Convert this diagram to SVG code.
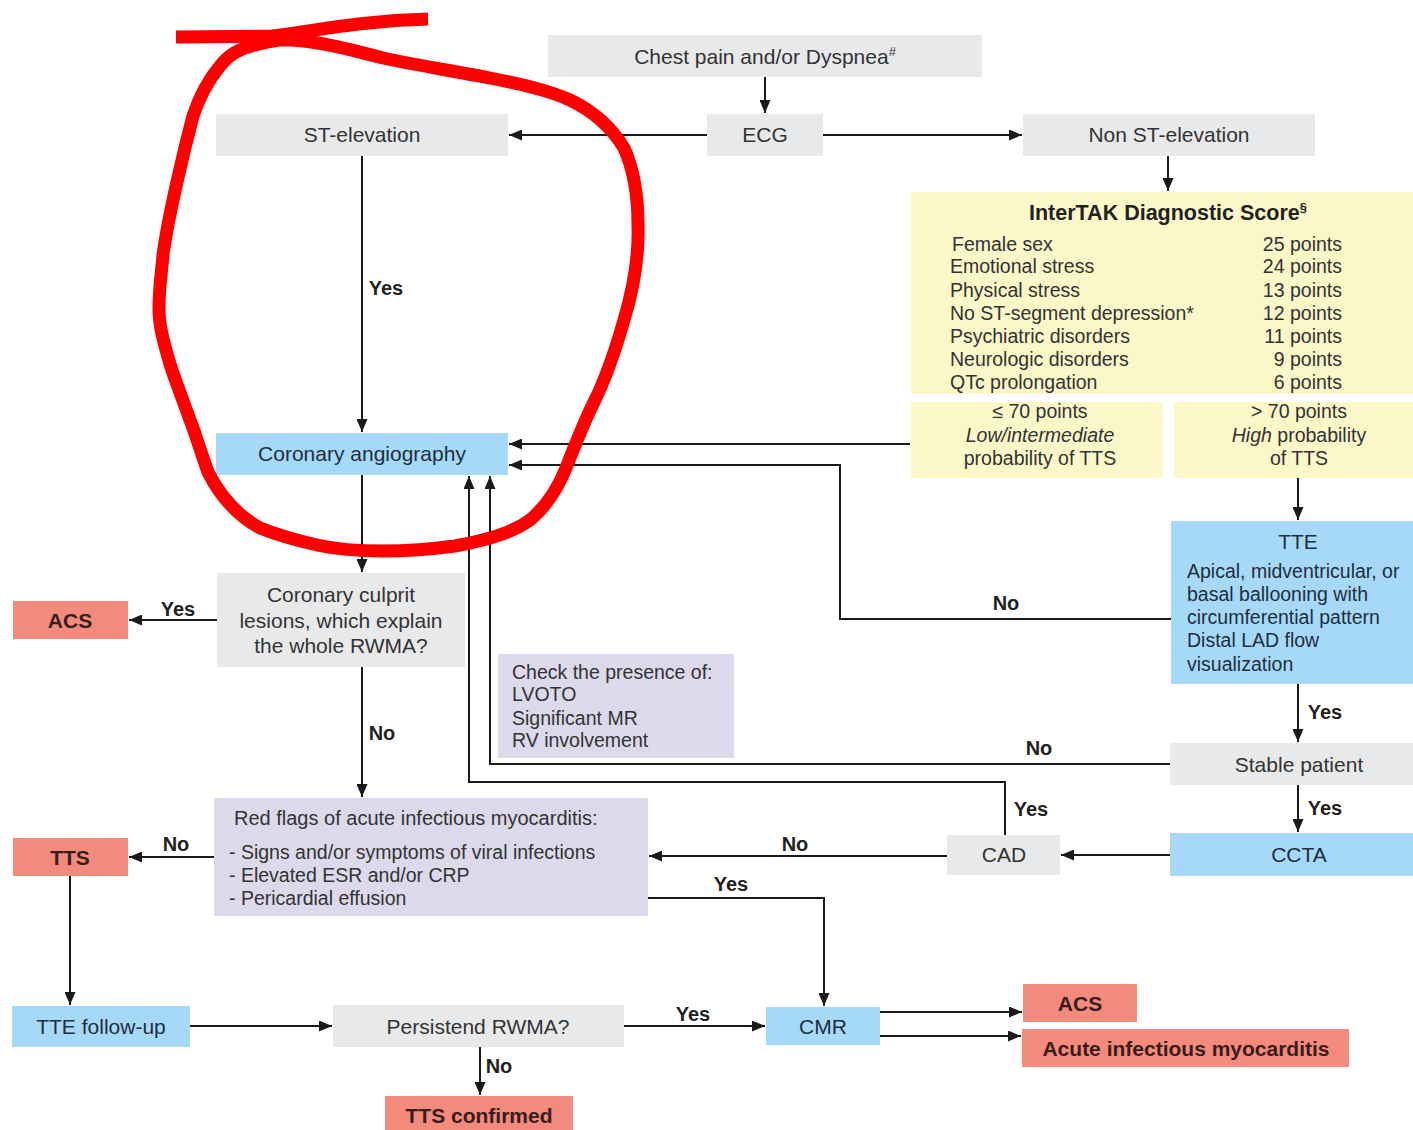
<svg xmlns="http://www.w3.org/2000/svg" width="1413" height="1130" viewBox="0 0 1413 1130">
<defs>
<marker id="ah" markerUnits="userSpaceOnUse" markerWidth="13" markerHeight="11" refX="13" refY="5.5" orient="auto">
<path d="M0,0 L13,5.5 L0,11 z" fill="#1a1a1a"/>
</marker>
</defs>
<style>
text{font-family:"Liberation Sans",Arial,sans-serif;font-size:19.5px;fill:#333;}
.c{text-anchor:middle;}
.big{font-size:21px;}
.gray{fill:#e8e9eb;}
.blue{fill:#a6d9f7;}
.yel{fill:#fbf7c9;}
.lav{fill:#dcd9eb;}
.sal{fill:#f28b7d;}
.bt{fill:#1f2e3e;}
.st{font-weight:bold;fill:#3a1c1a;font-size:21px;}
.lbl{font-weight:bold;font-size:20px;fill:#222;}
.ttl{font-weight:bold;font-size:21.5px;fill:#222;}
.sup{font-size:13px;}
.ln{fill:none;stroke:#1a1a1a;stroke-width:2;}
.ar{marker-end:url(#ah);}
.red{fill:none;stroke:#ff0000;stroke-width:13;stroke-linejoin:round;}
</style>
<rect width="1413" height="1130" fill="#ffffff"/>

<g id="connectors">
<path class="ln ar" d="M765,77 V113"/>
<path class="ln ar" d="M707,135 H509"/>
<path class="ln ar" d="M823,135 H1022"/>
<path class="ln ar" d="M1168,156 V191"/>
<path class="ln ar" d="M362,156 V432"/>
<path class="ln ar" d="M910,444 H509"/>
<path class="ln ar" d="M1171,619 H840 V465 H509"/>
<path class="ln ar" d="M1298,478 V520"/>
<path class="ln ar" d="M1298,684 V742"/>
<path class="ln ar" d="M1170,764 H490 V476"/>
<path class="ln ar" d="M1298,785 V832"/>
<path class="ln ar" d="M1170,855 H1061"/>
<path class="ln ar" d="M1005,835 V782 H469 V476"/>
<path class="ln ar" d="M947,856 H649"/>
<path class="ln ar" d="M648,898 H824 V1006"/>
<path class="ln ar" d="M362,475 V572"/>
<path class="ln ar" d="M217,620 H129"/>
<path class="ln ar" d="M362,667 V797"/>
<path class="ln ar" d="M214,857 H129"/>
<path class="ln ar" d="M70,876 V1005"/>
<path class="ln ar" d="M190,1026 H332"/>
<path class="ln ar" d="M624,1026 H765"/>
<path class="ln ar" d="M480,1047 V1095"/>
<path class="ln ar" d="M880,1012 H1022"/>
<path class="ln ar" d="M880,1036 H1021"/>
<text class="lbl c" x="386" y="295">Yes</text>
<text class="lbl c" x="1006" y="610">No</text>
<text class="lbl c" x="1325" y="719">Yes</text>
<text class="lbl c" x="1039" y="755">No</text>
<text class="lbl c" x="1325" y="815">Yes</text>
<text class="lbl c" x="1031" y="816">Yes</text>
<text class="lbl c" x="795" y="851">No</text>
<text class="lbl c" x="731" y="891">Yes</text>
<text class="lbl c" x="178" y="616">Yes</text>
<text class="lbl c" x="382" y="740">No</text>
<text class="lbl c" x="176" y="851">No</text>
<text class="lbl c" x="693" y="1021">Yes</text>
<text class="lbl c" x="499" y="1073">No</text>
</g>

<g id="chest"><rect class="gray" x="548" y="35" width="434" height="42"/><text class="c big" x="765" y="64">Chest pain and/or Dyspnea<tspan class="sup" dy="-8">#</tspan></text></g>
<g id="stelev"><rect class="gray" x="216" y="114" width="292" height="42"/><text class="c big" x="362" y="142">ST-elevation</text></g>
<g id="ecg"><rect class="gray" x="707" y="114" width="116" height="42"/><text class="c big" x="765" y="142">ECG</text></g>
<g id="nonst"><rect class="gray" x="1023" y="114" width="292" height="42"/><text class="c big" x="1169" y="142">Non ST-elevation</text></g>

<g id="intertak">
<rect class="yel" x="911" y="192" width="502" height="202"/>
<text class="c ttl" x="1168" y="220">InterTAK Diagnostic Score<tspan class="sup" dy="-8">§</tspan></text>
<text x="952" y="251">Female sex</text>
<text x="950" y="273">Emotional stress</text>
<text x="950" y="297">Physical stress</text>
<text x="950" y="320">No ST-segment depression*</text>
<text x="950" y="343">Psychiatric disorders</text>
<text x="950" y="366">Neurologic disorders</text>
<text x="950" y="389">QTc prolongation</text>
<g text-anchor="end">
<text x="1342" y="251">25 points</text>
<text x="1342" y="273">24 points</text>
<text x="1342" y="297">13 points</text>
<text x="1342" y="320">12 points</text>
<text x="1342" y="343">11 points</text>
<text x="1342" y="366">9 points</text>
<text x="1342" y="389">6 points</text>
</g>
</g>
<g id="lowprob"><rect class="yel" x="911" y="402" width="252" height="76"/>
<text class="c" x="1040" y="418">≤ 70 points</text>
<text class="c" x="1040" y="442" font-style="italic">Low/intermediate</text>
<text class="c" x="1040" y="465">probability of TTS</text></g>
<g id="highprob"><rect class="yel" x="1174" y="402" width="239" height="76"/>
<text class="c" x="1299" y="418">&gt; 70 points</text>
<text class="c" x="1299" y="442"><tspan font-style="italic">High</tspan> probability</text>
<text class="c" x="1299" y="465">of TTS</text></g>

<g id="angio"><rect class="blue" x="216" y="433" width="292" height="42"/><text class="c big bt" x="362" y="461">Coronary angiography</text></g>
<g id="culprit"><rect class="gray" x="217" y="573" width="248" height="94"/>
<text class="c big" x="341" y="602">Coronary culprit</text>
<text class="c big" x="341" y="628">lesions, which explain</text>
<text class="c big" x="341" y="653">the whole RWMA?</text></g>
<g id="acs1"><rect class="sal" x="13" y="601" width="115" height="38"/><text class="c st" x="70" y="628">ACS</text></g>
<g id="check"><rect class="lav" x="498" y="654" width="236" height="104"/>
<text x="512" y="679">Check the presence of:</text>
<text x="512" y="701">LVOTO</text>
<text x="512" y="725">Significant MR</text>
<text x="512" y="747">RV involvement</text></g>
<g id="tte"><rect class="blue" x="1171" y="521" width="242" height="163"/>
<text class="c big bt" x="1298" y="549">TTE</text>
<text class="bt" x="1187" y="578">Apical, midventricular, or</text>
<text class="bt" x="1187" y="601">basal ballooning with</text>
<text class="bt" x="1187" y="624">circumferential pattern</text>
<text class="bt" x="1187" y="647">Distal LAD flow</text>
<text class="bt" x="1187" y="671">visualization</text></g>
<g id="stable"><rect class="gray" x="1170" y="743" width="243" height="42"/><text class="c big" x="1299" y="772">Stable patient</text></g>
<g id="ccta"><rect class="blue" x="1170" y="833" width="243" height="43"/><text class="c big bt" x="1299" y="862">CCTA</text></g>
<g id="cad"><rect class="gray" x="947" y="835" width="113" height="40"/><text class="c big" x="1004" y="862">CAD</text></g>
<g id="redflags"><rect class="lav" x="214" y="798" width="434" height="118"/>
<text x="234" y="825" style="font-size:20px">Red flags of acute infectious myocarditis:</text>
<text x="229" y="859">- Signs and/or symptoms of viral infections</text>
<text x="229" y="882">- Elevated ESR and/or CRP</text>
<text x="229" y="905">- Pericardial effusion</text></g>
<g id="tts"><rect class="sal" x="13" y="838" width="115" height="38"/><text class="c st" x="70" y="865">TTS</text></g>
<g id="ttefu"><rect class="blue" x="12" y="1006" width="178" height="41"/><text class="c big bt" x="101" y="1034">TTE follow-up</text></g>
<g id="persist"><rect class="gray" x="333" y="1005" width="291" height="42"/><text class="c big" x="478" y="1034">Persistend RWMA?</text></g>
<g id="ttsconf"><rect class="sal" x="385" y="1096" width="188" height="34"/><text class="c st" x="479" y="1123">TTS confirmed</text></g>
<g id="cmr"><rect class="blue" x="766" y="1007" width="114" height="38"/><text class="c big bt" x="823" y="1034">CMR</text></g>
<g id="acs2"><rect class="sal" x="1023" y="984" width="114" height="38"/><text class="c st" x="1080" y="1011">ACS</text></g>
<g id="aim"><rect class="sal" x="1022" y="1029" width="327" height="38"/><text class="c st" x="1186" y="1056">Acute infectious myocarditis</text></g>

<g id="annotation">
<path class="red" stroke-linecap="butt" d="M176,37 L272,36 C320,30 360,21 428,19"/>
<path class="red" stroke-linecap="round" d="M270,40 C300,38 330,44 383,58 C420,66 460,72 490,78 C520,84 548,90 570,100 C595,112 612,128 624,148 C634,170 638,195 638,225 C639,255 633,290 624,320 C616,348 606,378 594,402 C585,420 575,445 566,468 C558,488 548,505 530,520 C512,533 487,540 455,546 C425,550 405,551 383,551 C355,551 335,549 317,545 C295,540 275,534 260,528 C240,517 222,500 208,472 C199,447 195,432 190,420 C183,400 175,380 170,364 C163,340 159,325 159,309 C159,285 162,270 163,255 C167,225 172,205 177,182 C183,155 188,135 193,116 C200,95 210,78 220,66 C228,55 240,48 255,45 C270,40 280,40 300,38"/>
</g>
</svg>
